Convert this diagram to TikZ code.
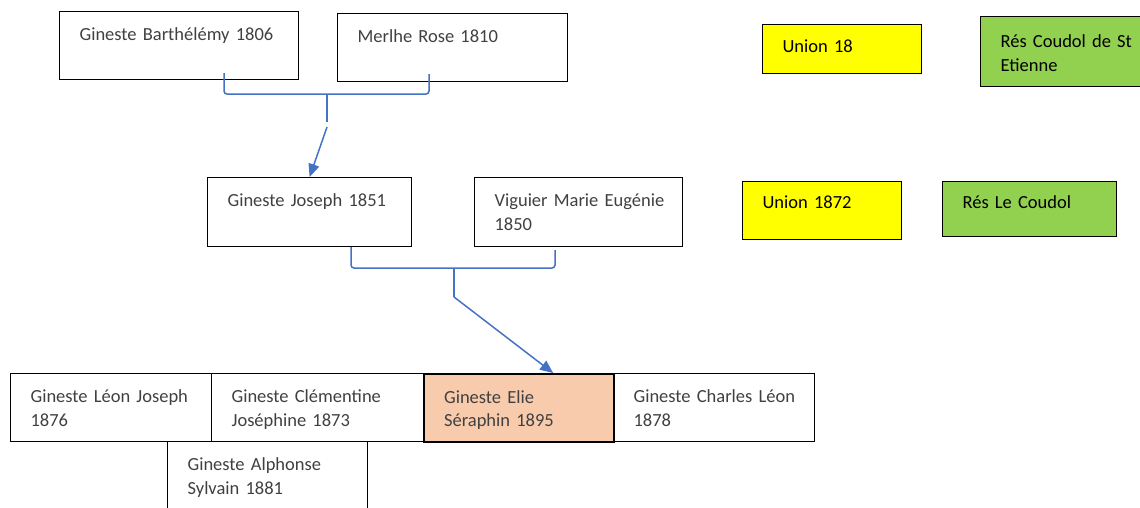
\documentclass[tikz,border=0pt]{standalone}
\usepackage{fontspec}
\setmainfont{Carlito}
\usepackage{xcolor}
\usetikzlibrary{arrows.meta,positioning}

\definecolor{linkblue}{HTML}{4472C4}
\definecolor{unionyellow}{HTML}{FFFF00}
\definecolor{resgreen}{HTML}{92D050}
\definecolor{eliepeach}{HTML}{F8CBAD}
\definecolor{nametext}{HTML}{404040}

\begin{document}
\begin{tikzpicture}[
    x=1pt, y=-1pt,
    person/.style={
        draw,
        line width=1.2pt,
        anchor=north west,
        align=left,
        inner xsep=10pt,
        inner ysep=0pt,
        text height=29pt,
        text=nametext,
        font=\fontsize{18.5pt}{23.5pt}\selectfont,
        execute at begin node={\leftskip=10pt}
    },
    union/.style={
        person,
        fill=unionyellow,
        text=black
    },
    res/.style={
        person,
        fill=resgreen,
        text=black
    },
    bracket/.style={
        draw=linkblue,
        line width=1.5pt,
        rounded corners=3pt
    },
    arrow/.style={
        -{Triangle[length=13pt,width=11pt]},
        draw=linkblue,
        line width=1.5pt
    }
]

\useasboundingbox (0,0) rectangle (1140,507);

% First couple
\node[person, text width=219pt, text depth=39pt] (barth) at (59,11)
{Gineste Barthélémy 1806};

\node[person, text width=210pt, text depth=39pt] (merlhe) at (337,13)
{Merlhe Rose 1810};

% Second couple
\node[person, text width=184pt, text depth=40pt] (joseph) at (207,177)
{Gineste Joseph 1851};

\node[person, text width=188pt, text depth=40pt] (viguier) at (474,177)
{Viguier Marie Eugénie\\1850};

% Unions and places
\node[union, text width=139pt, text height=28pt, text depth=21pt] (union1) at (762,24)
{Union 18};

\node[res, text width=160pt, text height=31pt, text depth=39pt] (coudol1) at (980,16)
{Rés Coudol de St\\Etienne};

\node[union, text width=139pt, text height=27pt, text depth=31pt] (union2) at (742,181)
{Union 1872};

\node[res, text width=154pt, text height=27pt, text depth=28pt] (coudol2) at (942,181)
{Rés Le Coudol};

% Children
\node[person, text width=181pt, text depth=39pt] (leon) at (10,373)
{Gineste Léon Joseph\\1876};

\node[person, text width=192pt, text depth=39pt] (clem) at (211,373)
{Gineste Clémentine\\Joséphine 1873};

\node[person, fill=eliepeach, line width=2.2pt, text width=170pt, text depth=39pt] (elie) at (423,373)
{Gineste Elie\\Séraphin 1895};

\node[person, text width=181pt, text depth=39pt] (charles) at (613,373)
{Gineste Charles Léon\\1878};

\node[person, text width=180pt, text depth=41pt] (alph) at (167,441)
{Gineste Alphonse\\Sylvain 1881};

% First bracket
\coordinate (b1l) at (224,73);
\coordinate (b1r) at (429,74);
\coordinate (b1m) at (327,94);
\coordinate (b1s) at (327,122);
\coordinate (b1a) at (327,127);

\draw[bracket] (b1l) |- (b1m) -| (b1r);
\draw[bracket] (b1m) -- (b1s);
\draw[arrow] (b1a) -- (joseph.north);

% Second bracket
\coordinate (b2l) at (351,247);
\coordinate (b2r) at (555,250);
\coordinate (b2m) at (454,268);
\coordinate (b2s) at (454,297);

\draw[bracket] (b2l) |- (b2m) -| (b2r);
\draw[bracket] (b2m) -- (b2s);
\draw[arrow] (b2s) -- ([xshift=34pt]elie.north);

\end{tikzpicture}
\end{document}
